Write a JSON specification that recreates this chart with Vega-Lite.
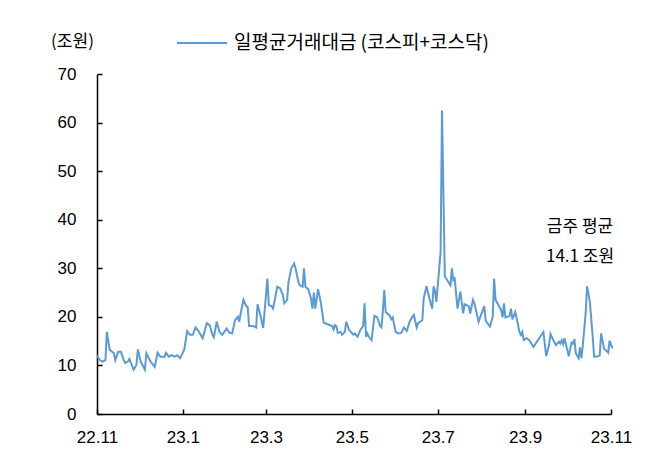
{
  "$schema": "https://vega.github.io/schema/vega-lite/v6.json",
  "width": 514,
  "height": 340,
  "autosize": {"type": "none"},
  "padding": {"left": 97, "top": 74, "right": 54, "bottom": 50},
  "background": "white",
  "config": {"view": {"stroke": null}, "font": "Liberation Sans"},
  "layer": [
    {
      "data": {
        "values": [
          {"date": "2022/11/01", "value": 12.1},
          {"date": "2022/11/03", "value": 11.1},
          {"date": "2022/11/05", "value": 10.8},
          {"date": "2022/11/07", "value": 11.1},
          {"date": "2022/11/08", "value": 16.9},
          {"date": "2022/11/10", "value": 13.2},
          {"date": "2022/11/13", "value": 12.5},
          {"date": "2022/11/14", "value": 11.1},
          {"date": "2022/11/16", "value": 12.8},
          {"date": "2022/11/18", "value": 12.8},
          {"date": "2022/11/20", "value": 11.1},
          {"date": "2022/11/21", "value": 10.5},
          {"date": "2022/11/23", "value": 10.8},
          {"date": "2022/11/24", "value": 11.3},
          {"date": "2022/11/25", "value": 10.6},
          {"date": "2022/11/27", "value": 9.1},
          {"date": "2022/11/29", "value": 10.1},
          {"date": "2022/11/30", "value": 13.3},
          {"date": "2022/12/02", "value": 10.8},
          {"date": "2022/12/05", "value": 9.1},
          {"date": "2022/12/06", "value": 12.5},
          {"date": "2022/12/09", "value": 10.8},
          {"date": "2022/12/12", "value": 9.7},
          {"date": "2022/12/14", "value": 12.6},
          {"date": "2022/12/16", "value": 11.8},
          {"date": "2022/12/19", "value": 11.8},
          {"date": "2022/12/20", "value": 12.6},
          {"date": "2022/12/22", "value": 11.8},
          {"date": "2022/12/24", "value": 12.1},
          {"date": "2022/12/26", "value": 11.8},
          {"date": "2022/12/28", "value": 12.1},
          {"date": "2022/12/30", "value": 11.5},
          {"date": "2023/01/02", "value": 13.3},
          {"date": "2023/01/04", "value": 17.1},
          {"date": "2023/01/06", "value": 16.3},
          {"date": "2023/01/08", "value": 16.3},
          {"date": "2023/01/10", "value": 17.8},
          {"date": "2023/01/12", "value": 17.1},
          {"date": "2023/01/15", "value": 15.6},
          {"date": "2023/01/18", "value": 18.7},
          {"date": "2023/01/20", "value": 18.3},
          {"date": "2023/01/22", "value": 16.3},
          {"date": "2023/01/23", "value": 15.8},
          {"date": "2023/01/25", "value": 19.0},
          {"date": "2023/01/27", "value": 16.9},
          {"date": "2023/01/29", "value": 16.3},
          {"date": "2023/02/01", "value": 17.6},
          {"date": "2023/02/03", "value": 16.7},
          {"date": "2023/02/05", "value": 16.6},
          {"date": "2023/02/07", "value": 19.3},
          {"date": "2023/02/09", "value": 20.0},
          {"date": "2023/02/10", "value": 19.0},
          {"date": "2023/02/11", "value": 20.7},
          {"date": "2023/02/13", "value": 23.5},
          {"date": "2023/02/15", "value": 22.2},
          {"date": "2023/02/16", "value": 22.0},
          {"date": "2023/02/17", "value": 18.1},
          {"date": "2023/02/20", "value": 18.1},
          {"date": "2023/02/22", "value": 17.8},
          {"date": "2023/02/23", "value": 22.6},
          {"date": "2023/02/25", "value": 20.4},
          {"date": "2023/02/27", "value": 17.7},
          {"date": "2023/03/02", "value": 27.9},
          {"date": "2023/03/03", "value": 22.4},
          {"date": "2023/03/05", "value": 22.2},
          {"date": "2023/03/06", "value": 21.7},
          {"date": "2023/03/07", "value": 23.1},
          {"date": "2023/03/09", "value": 26.2},
          {"date": "2023/03/11", "value": 25.9},
          {"date": "2023/03/13", "value": 24.5},
          {"date": "2023/03/14", "value": 22.8},
          {"date": "2023/03/16", "value": 23.5},
          {"date": "2023/03/17", "value": 27.2},
          {"date": "2023/03/19", "value": 30.0},
          {"date": "2023/03/21", "value": 31.0},
          {"date": "2023/03/22", "value": 30.0},
          {"date": "2023/03/24", "value": 27.2},
          {"date": "2023/03/25", "value": 26.5},
          {"date": "2023/03/27", "value": 26.2},
          {"date": "2023/03/28", "value": 30.0},
          {"date": "2023/03/29", "value": 26.2},
          {"date": "2023/03/31", "value": 25.7},
          {"date": "2023/04/02", "value": 23.8},
          {"date": "2023/04/03", "value": 21.7},
          {"date": "2023/04/04", "value": 25.0},
          {"date": "2023/04/05", "value": 21.7},
          {"date": "2023/04/07", "value": 25.7},
          {"date": "2023/04/09", "value": 22.8},
          {"date": "2023/04/11", "value": 18.8},
          {"date": "2023/04/17", "value": 18.1},
          {"date": "2023/04/18", "value": 17.4},
          {"date": "2023/04/19", "value": 18.3},
          {"date": "2023/04/20", "value": 18.1},
          {"date": "2023/04/21", "value": 16.7},
          {"date": "2023/04/23", "value": 16.9},
          {"date": "2023/04/24", "value": 16.3},
          {"date": "2023/04/26", "value": 16.9},
          {"date": "2023/04/27", "value": 19.0},
          {"date": "2023/04/29", "value": 17.3},
          {"date": "2023/04/30", "value": 17.0},
          {"date": "2023/05/02", "value": 16.3},
          {"date": "2023/05/03", "value": 16.6},
          {"date": "2023/05/05", "value": 15.9},
          {"date": "2023/05/07", "value": 17.3},
          {"date": "2023/05/09", "value": 18.1},
          {"date": "2023/05/10", "value": 22.8},
          {"date": "2023/05/11", "value": 15.9},
          {"date": "2023/05/12", "value": 16.6},
          {"date": "2023/05/13", "value": 15.9},
          {"date": "2023/05/15", "value": 15.2},
          {"date": "2023/05/17", "value": 20.2},
          {"date": "2023/05/19", "value": 19.9},
          {"date": "2023/05/21", "value": 18.1},
          {"date": "2023/05/22", "value": 17.8},
          {"date": "2023/05/23", "value": 21.3},
          {"date": "2023/05/24", "value": 25.5},
          {"date": "2023/05/25", "value": 21.0},
          {"date": "2023/05/28", "value": 20.2},
          {"date": "2023/05/29", "value": 19.5},
          {"date": "2023/05/30", "value": 19.9},
          {"date": "2023/06/01", "value": 16.9},
          {"date": "2023/06/03", "value": 16.6},
          {"date": "2023/06/05", "value": 16.7},
          {"date": "2023/06/07", "value": 17.8},
          {"date": "2023/06/09", "value": 17.1},
          {"date": "2023/06/11", "value": 19.0},
          {"date": "2023/06/13", "value": 20.0},
          {"date": "2023/06/14", "value": 20.4},
          {"date": "2023/06/16", "value": 17.8},
          {"date": "2023/06/17", "value": 18.7},
          {"date": "2023/06/20", "value": 19.3},
          {"date": "2023/06/21", "value": 23.8},
          {"date": "2023/06/23", "value": 26.3},
          {"date": "2023/06/25", "value": 23.8},
          {"date": "2023/06/27", "value": 21.7},
          {"date": "2023/06/28", "value": 26.3},
          {"date": "2023/06/29", "value": 25.5},
          {"date": "2023/06/30", "value": 23.1},
          {"date": "2023/07/03", "value": 33.4},
          {"date": "2023/07/04", "value": 62.5},
          {"date": "2023/07/06", "value": 28.3},
          {"date": "2023/07/10", "value": 26.5},
          {"date": "2023/07/11", "value": 30.0},
          {"date": "2023/07/12", "value": 27.6},
          {"date": "2023/07/13", "value": 27.9},
          {"date": "2023/07/15", "value": 21.7},
          {"date": "2023/07/17", "value": 25.2},
          {"date": "2023/07/19", "value": 20.7},
          {"date": "2023/07/20", "value": 22.6},
          {"date": "2023/07/23", "value": 22.2},
          {"date": "2023/07/24", "value": 20.7},
          {"date": "2023/07/26", "value": 23.5},
          {"date": "2023/07/27", "value": 22.8},
          {"date": "2023/07/30", "value": 19.0},
          {"date": "2023/08/03", "value": 22.2},
          {"date": "2023/08/04", "value": 19.2},
          {"date": "2023/08/07", "value": 18.0},
          {"date": "2023/08/09", "value": 20.0},
          {"date": "2023/08/10", "value": 27.9},
          {"date": "2023/08/11", "value": 23.5},
          {"date": "2023/08/15", "value": 21.4},
          {"date": "2023/08/16", "value": 19.9},
          {"date": "2023/08/17", "value": 22.8},
          {"date": "2023/08/18", "value": 19.9},
          {"date": "2023/08/21", "value": 20.2},
          {"date": "2023/08/22", "value": 21.7},
          {"date": "2023/08/23", "value": 19.5},
          {"date": "2023/08/25", "value": 21.0},
          {"date": "2023/08/26", "value": 19.7},
          {"date": "2023/08/28", "value": 16.9},
          {"date": "2023/08/29", "value": 16.3},
          {"date": "2023/08/30", "value": 16.9},
          {"date": "2023/08/31", "value": 15.2},
          {"date": "2023/09/02", "value": 15.6},
          {"date": "2023/09/04", "value": 15.2},
          {"date": "2023/09/07", "value": 13.8},
          {"date": "2023/09/10", "value": 15.2},
          {"date": "2023/09/14", "value": 16.9},
          {"date": "2023/09/16", "value": 11.9},
          {"date": "2023/09/18", "value": 14.2},
          {"date": "2023/09/19", "value": 16.5},
          {"date": "2023/09/21", "value": 15.2},
          {"date": "2023/09/23", "value": 14.2},
          {"date": "2023/09/25", "value": 14.9},
          {"date": "2023/09/26", "value": 14.5},
          {"date": "2023/09/27", "value": 15.2},
          {"date": "2023/09/28", "value": 14.4},
          {"date": "2023/09/29", "value": 15.6},
          {"date": "2023/10/02", "value": 11.9},
          {"date": "2023/10/04", "value": 14.7},
          {"date": "2023/10/05", "value": 14.5},
          {"date": "2023/10/06", "value": 15.4},
          {"date": "2023/10/07", "value": 12.5},
          {"date": "2023/10/09", "value": 11.5},
          {"date": "2023/10/10", "value": 13.7},
          {"date": "2023/10/11", "value": 11.5},
          {"date": "2023/10/12", "value": 14.2},
          {"date": "2023/10/14", "value": 20.7},
          {"date": "2023/10/15", "value": 26.3},
          {"date": "2023/10/17", "value": 23.1},
          {"date": "2023/10/19", "value": 15.9},
          {"date": "2023/10/20", "value": 11.8},
          {"date": "2023/10/23", "value": 11.9},
          {"date": "2023/10/24", "value": 12.1},
          {"date": "2023/10/25", "value": 16.6},
          {"date": "2023/10/27", "value": 13.5},
          {"date": "2023/10/28", "value": 13.2},
          {"date": "2023/10/30", "value": 12.6},
          {"date": "2023/10/31", "value": 15.1},
          {"date": "2023/11/02", "value": 13.5}
        ]
      },
      "mark": {"type": "line", "strokeWidth": 2, "interpolate": "linear"},
      "encoding": {
        "x": {
          "field": "date",
          "type": "temporal",
          "scale": {"domain": [{"year": 2022, "month": 11, "date": 1}, {"year": 2023, "month": 11, "date": 1}]},
          "axis": {
            "title": null,
            "grid": false,
            "values": [
              {"year": 2022, "month": 11, "date": 1},
              {"year": 2023, "month": 1, "date": 1},
              {"year": 2023, "month": 3, "date": 1},
              {"year": 2023, "month": 5, "date": 1},
              {"year": 2023, "month": 7, "date": 1},
              {"year": 2023, "month": 9, "date": 1},
              {"year": 2023, "month": 11, "date": 1}
            ],
            "labelExpr": "timeFormat(datum.value, '%y') + '.' + (month(datum.value) + 1)",
            "domainColor": "#000000",
            "domainWidth": 1.5,
            "tickColor": "#000000",
            "tickWidth": 1.5,
            "tickSize": -5,
            "labelFontSize": 17,
            "labelColor": "#000000",
            "labelPadding": 20,
            "labelFlush": false,
            "labelOverlap": false
          }
        },
        "y": {
          "field": "value",
          "type": "quantitative",
          "scale": {"domain": [0, 70]},
          "axis": {
            "values": [0, 10, 20, 30, 40, 50, 60, 70],
            "grid": false,
            "title": "(조원)",
            "titleAngle": 0,
            "titleX": -25,
            "titleY": -33,
            "titleAlign": "center",
            "titleBaseline": "middle",
            "titleFont": "Noto Sans CJK KR",
            "titleFontSize": 17,
            "titleFontWeight": "normal",
            "titleColor": "#000000",
            "domainColor": "#000000",
            "domainWidth": 1.5,
            "tickColor": "#000000",
            "tickWidth": 1.5,
            "tickSize": -5,
            "labelFontSize": 17,
            "labelColor": "#000000",
            "labelPadding": 26
          }
        },
        "color": {
          "datum": "일평균거래대금 (코스피+코스닥)",
          "type": "nominal",
          "scale": {"range": ["#5B9BD5"]},
          "legend": {
            "title": null,
            "orient": "none",
            "legendX": 79,
            "legendY": -57,
            "symbolType": "stroke",
            "symbolSize": 2500,
            "symbolStrokeWidth": 2,
            "labelFont": "Noto Sans CJK KR",
            "labelFontSize": 19,
            "labelColor": "#000000",
            "labelOffset": 6,
            "labelLimit": 500,
            "padding": 0
          }
        }
      }
    },
    {
      "data": {"values": [{}]},
      "mark": {"type": "text", "font": "Noto Sans CJK KR", "fontSize": 17, "lineHeight": 30, "align": "center", "baseline": "middle", "fill": "#000000"},
      "encoding": {
        "x": {"datum": {"year": 2023, "month": 10, "date": 10}, "type": "temporal"},
        "y": {"datum": 38.5, "type": "quantitative"},
        "text": {"value": ["금주 평균", "14.1 조원"]}
      }
    }
  ]
}
